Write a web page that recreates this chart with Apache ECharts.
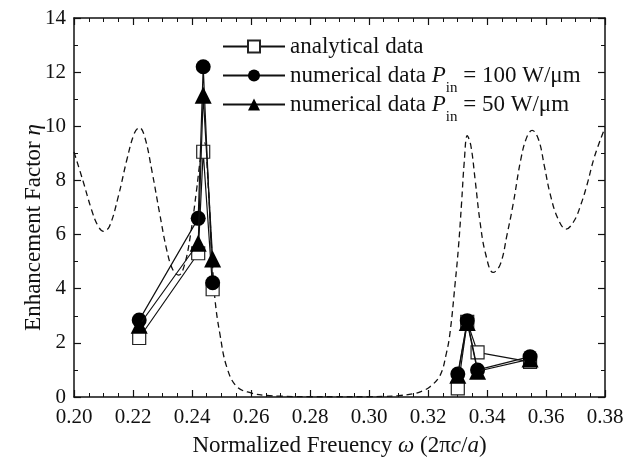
<!DOCTYPE html>
<html><head><meta charset="utf-8">
<script src="https://cdn.jsdelivr.net/npm/echarts@6/dist/echarts.min.js"></script>
<style>html,body{margin:0;padding:0;background:#fff}#c{width:636px;height:457px}</style>
</head><body><div id="c"></div>
<script>
// Analytical curve (dashed)
var curveX = [0.200,0.203,0.206,0.208,0.210,0.212,0.215,0.218,0.2205,0.2222,0.224,0.2265,0.229,0.2315,0.2335,0.2355,0.2375,0.2395,0.2415,0.243,0.2442,0.2455,0.2467,0.2478,0.2495,0.2518,0.2552,0.260,0.265,0.270,0.280,0.290,0.300,0.305,0.310,0.315,0.318,0.3207,0.3241,0.3262,0.3275,0.3292,0.3303,0.3314,0.3323,0.3333,0.3345,0.3360,0.3376,0.3395,0.3421,0.3445,0.3468,0.3489,0.3515,0.3535,0.3553,0.3575,0.3595,0.3614,0.3640,0.3668,0.3695,0.3718,0.3738,0.3765,0.3800];
var curveY = [9.05,8.0,6.9,6.35,6.12,6.3,7.4,8.8,9.75,9.95,9.6,8.3,6.8,5.4,4.7,4.5,4.9,6.0,7.6,8.9,9.4,7.8,5.4,3.6,2.3,1.1,0.38,0.15,0.06,0.03,0.01,0.01,0.01,0.02,0.05,0.12,0.22,0.38,0.8,1.6,2.4,4.2,5.5,7.2,8.7,9.65,9.3,8.0,6.5,5.3,4.6,4.9,6.0,7.15,8.8,9.6,9.85,9.5,8.5,7.5,6.6,6.2,6.5,7.1,7.8,8.9,9.95];

// Data points: two groups each
var groupX1 = [0.2221, 0.2421, 0.2438, 0.2470];
var groupX2 = [0.3301, 0.3333, 0.3368, 0.3546];
var anaY1 = [2.18, 5.31, 9.06, 3.98];
var anaY2 = [0.32, 2.78, 1.65, 1.30];
var p100Y1 = [2.84, 6.6, 12.2, 4.22];
var p100Y2 = [0.85, 2.82, 1.0, 1.49];
var p50Y1 = [2.65, 5.68, 11.15, 5.1];
var p50Y2 = [0.8, 2.75, 0.95, 1.4];

var xTicks = [0.20,0.22,0.24,0.26,0.28,0.30,0.32,0.34,0.36,0.38];
var yTicks = [0,2,4,6,8,10,12,14];

var FONT = '"Liberation Serif", "DejaVu Serif", serif';
function pairs(xs, ys){ return xs.map(function(x,i){ return [x, ys[i]]; }); }

var names = ['analytical data', 'numerical data P100', 'numerical data P50'];

var chart = echarts.init(document.getElementById('c'));
var tickText = {fontFamily: FONT, fontSize: 21, color: '#111'};

function ptSeries(name, data, symbol, size, fill, z){
  return {
    name: name, type: 'line', data: data, xAxisIndex: 0, yAxisIndex: 0,
    symbol: symbol, symbolSize: size, showAllSymbol: true,
    lineStyle: {color: '#111', width: 1.2},
    itemStyle: {color: fill, borderColor: '#222', borderWidth: symbol === 'rect' ? 1.2 : 0},
    z: z, animation: false, smooth: false
  };
}

var option = {
  animation: false,
  backgroundColor: '#fff',
  grid: {left: 74, right: 31, top: 18, bottom: 60, containLabel: false, outerBoundsMode: 'none'},
  legend: {
    orient: 'vertical', left: 222, top: 26, padding: 0,
    itemWidth: 62, itemHeight: 15, itemGap: -12,
    data: names,
    textStyle: {
      fontFamily: FONT, fontSize: 23, color: '#111', lineHeight: 27,
      rich: {
        t: {fontFamily: FONT, fontSize: 23, color: '#111', lineHeight: 27},
        it: {fontFamily: FONT, fontSize: 23, fontStyle: 'italic', color: '#111', lineHeight: 27},
        sub: {fontFamily: FONT, fontSize: 15, color: '#111', lineHeight: 10, padding: [26,0,0,0]}
      }
    },
    formatter: function(n){
      if (n === names[1]) return '{t|numerical data }{it|P}{sub|in}{t| = 100 W/μm}';
      if (n === names[2]) return '{t|numerical data }{it|P}{sub|in}{t| = 50 W/μm}';
      return '{t|' + n + '}{sub| }';
    }
  },
  xAxis: [
    {type: 'value', min: 0.20, max: 0.38, interval: 0.02, position: 'bottom',
     axisLine: {onZero: false, lineStyle: {color: '#111', width: 1.5}},
     axisTick: {inside: true, length: 7, lineStyle: {color: '#111', width: 1.2}},
     minorTick: {show: true, splitNumber: 4, length: 4, lineStyle: {color: '#111', width: 1}},
     splitLine: {show: false},
     axisLabel: Object.assign({margin: 10, formatter: function(v){ return v.toFixed(2); }}, tickText),
     name: '{t|Normalized Freuency }{i|ω}{t| (2π}{i|c}{t|/}{i|a}{t|)}',
     nameLocation: 'middle', nameGap: 37, nameMoveOverlap: false,
     nameTextStyle: {rich: {
       t: {fontFamily: FONT, fontSize: 23, color: '#111'},
       i: {fontFamily: FONT, fontSize: 23, color: '#111', fontStyle: 'italic'}
     }}
    },
    {type: 'value', min: 0.20, max: 0.38, interval: 0.02, position: 'top',
     axisLine: {onZero: false, lineStyle: {color: '#111', width: 1.5}},
     axisTick: {inside: true, length: 7, lineStyle: {color: '#111', width: 1.2}},
     minorTick: {show: true, splitNumber: 4, length: 4, lineStyle: {color: '#111', width: 1}},
     splitLine: {show: false}, axisLabel: {show: false}}
  ],
  yAxis: [
    {type: 'value', min: 0, max: 14, interval: 2, position: 'left',
     axisLine: {show: true, onZero: false, lineStyle: {color: '#111', width: 1.5}},
     axisTick: {show: true, inside: true, length: 7, lineStyle: {color: '#111', width: 1.2}},
     minorTick: {show: true, splitNumber: 2, length: 4, lineStyle: {color: '#111', width: 1}},
     splitLine: {show: false},
     axisLabel: Object.assign({margin: 8}, tickText),
     name: '{t|Enhancement Factor }{i|η}',
     nameLocation: 'middle', nameGap: 29, nameRotate: 90, nameMoveOverlap: false,
     nameTextStyle: {padding: [0, 40, 0, 0], rich: {
       t: {fontFamily: FONT, fontSize: 23, color: '#111'},
       i: {fontFamily: FONT, fontSize: 23, color: '#111', fontStyle: 'italic'}
     }}
    },
    {type: 'value', min: 0, max: 14, interval: 2, position: 'right',
     axisLine: {show: true, onZero: false, lineStyle: {color: '#111', width: 1.5}},
     axisTick: {show: true, inside: true, length: 7, lineStyle: {color: '#111', width: 1.2}},
     minorTick: {show: true, splitNumber: 2, length: 4, lineStyle: {color: '#111', width: 1}},
     splitLine: {show: false}, axisLabel: {show: false}}
  ],
  series: [
    {name: 'curve', type: 'line', data: pairs(curveX, curveY), symbol: 'none', smooth: 0.4,
     lineStyle: {color: '#111', width: 1.3, type: [6, 4]}, z: 1, silent: true},
    ptSeries(names[0], pairs(groupX1, anaY1), 'rect', 13, '#fff', 3),
    ptSeries(names[0], pairs(groupX2, anaY2), 'rect', 13, '#fff', 3),
    ptSeries(names[1], pairs(groupX1, p100Y1), 'circle', 15, '#000', 4),
    ptSeries(names[1], pairs(groupX2, p100Y2), 'circle', 15, '#000', 4),
    ptSeries(names[2], pairs(groupX1, p50Y1), 'triangle', 17, '#000', 5),
    ptSeries(names[2], pairs(groupX2, p50Y2), 'triangle', 17, '#000', 5)
  ]
};
chart.setOption(option);
</script>
</body></html>
